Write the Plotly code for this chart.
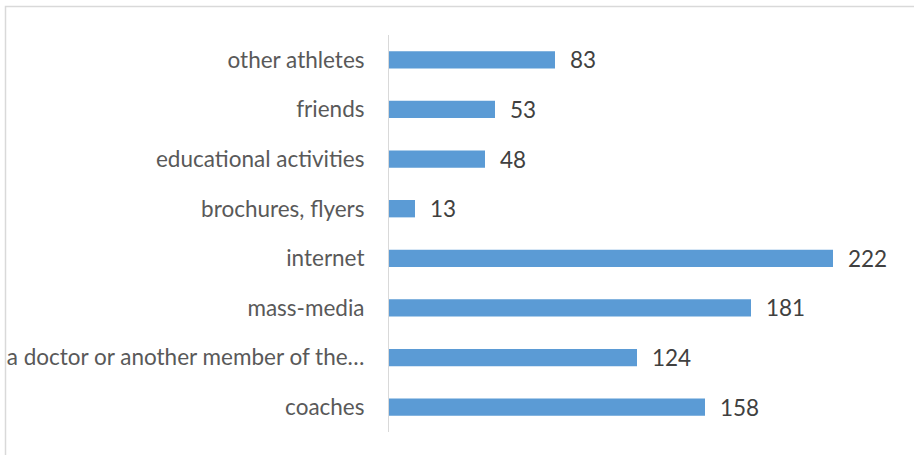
import plotly.graph_objects as go

# Sources of information, listed bottom to top
categories = [
    "coaches",
    "a doctor or another member of the…",
    "mass-media",
    "internet",
    "brochures, flyers",
    "educational activities",
    "friends",
    "other athletes",
]
counts = [158, 124, 181, 222, 13, 48, 53, 83]

BAR_COLOR = "#5B9BD5"
LABEL_FONT = "Lato, Open Sans, sans-serif"
FONT_SIZE = 22.5

fig = go.Figure(
    go.Bar(
        x=counts,
        y=categories,
        orientation="h",
        marker=dict(color=BAR_COLOR, line=dict(width=0)),
        width=0.35,
        hoverinfo="x+y",
    )
)

# value labels just past the end of each bar
for cat, val in zip(categories, counts):
    fig.add_annotation(
        x=val, y=cat, text=str(val), showarrow=False,
        xanchor="left", yanchor="middle", xshift=13,
        font=dict(family=LABEL_FONT, size=FONT_SIZE, color="#404040"),
    )

# light outer frame of the chart area
fig.add_shape(
    type="rect", xref="paper", yref="paper",
    x0=-0.767, x1=2.0, y0=-1.0, y1=1.0718,
    line=dict(color="#D9D9D9", width=1.5), fillcolor="rgba(0,0,0,0)",
    layer="below",
)

fig.update_layout(
    width=914, height=455,
    margin=dict(l=389, r=25, t=35, b=23, autoexpand=False),
    paper_bgcolor="white", plot_bgcolor="white",
    showlegend=False,
    xaxis=dict(range=[0, 250], visible=False, fixedrange=True),
    yaxis=dict(
        type="category", automargin=False,
        showline=True, linecolor="#D9D9D9", linewidth=1,
        showgrid=False, zeroline=False, ticks="",
        ticklabelstandoff=19,
        tickfont=dict(family=LABEL_FONT, size=FONT_SIZE, color="#595959"),
        fixedrange=True,
    ),
)

fig.write_html("out.html")
